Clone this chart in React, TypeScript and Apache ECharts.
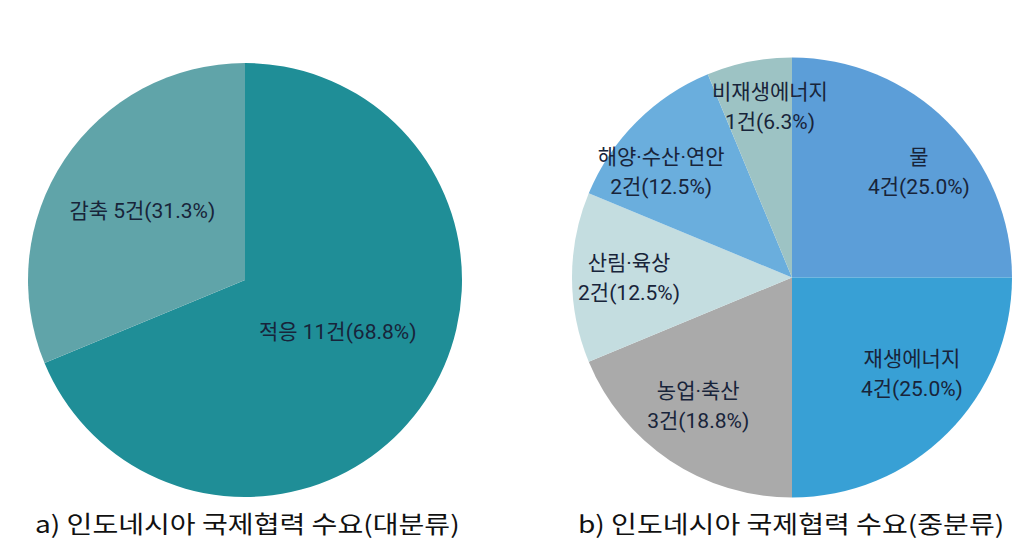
import React, { useEffect, useRef } from "react";
import * as echarts from "echarts";

// a) 대분류
const majorNames = ["적응", "감축"];
const majorValues = [11, 5];
const majorColors = ["#1f8e97", "#60a4a9"];
const majorOffsets = [[0, -10], [-10, -7]];

// b) 중분류
const minorNames = ["물", "재생에너지", "농업·축산", "산림·육상", "해양·수산·연안", "비재생에너지"];
const minorValues = [4, 4, 3, 2, 2, 1];
const minorColors = ["#5c9ed8", "#38a0d5", "#aaaaaa", "#c4dde0", "#6aaedd", "#9dc3c4"];
const minorOffsets = [[47, -26], [40, 17], [-31, 35], [-50, 0], [-51, -26], [0, -60]];

const captions = ["a) 인도네시아 국제협력 수요(대분류)", "b) 인도네시아 국제협력 수요(중분류)"];

const FONT = "Roboto, 'Noto Sans CJK KR', sans-serif";

function pct(v: number, arr: number[]) {
  const t = arr.reduce((a, b) => a + b, 0);
  return ((v / t) * 100).toFixed(1);
}

export default function App() {
  const ref = useRef<HTMLDivElement>(null);
  useEffect(() => {
    if (!ref.current) return;
    const chart = echarts.init(ref.current, undefined, { renderer: "svg" });
    const labelBase = {
      show: true,
      position: "inside",
      color: "#18243a",
      fontFamily: FONT,
      fontSize: 21,
      lineHeight: 30,
      align: "center",
    };
    chart.setOption({
      animation: false,
      backgroundColor: "#ffffff",
      series: [
        {
          type: "pie",
          center: [245, 280],
          radius: [0, 217],
          startAngle: 90,
          clockwise: true,
          silent: true,
          labelLine: { show: false },
          label: { ...labelBase },
          data: majorNames.map((n, i) => ({
            name: n,
            value: majorValues[i],
            itemStyle: { color: majorColors[i] },
            label: {
              offset: majorOffsets[i],
              formatter: `${n} ${majorValues[i]}건(${pct(majorValues[i], majorValues)}%)`,
            },
          })),
        },
        {
          type: "pie",
          center: [792, 277.5],
          radius: [0, 220],
          startAngle: 90,
          clockwise: true,
          silent: true,
          labelLine: { show: false },
          label: { ...labelBase },
          data: minorNames.map((n, i) => ({
            name: n,
            value: minorValues[i],
            itemStyle: { color: minorColors[i] },
            label: {
              offset: minorOffsets[i],
              formatter: `${n}\n${minorValues[i]}건(${pct(minorValues[i], minorValues)}%)`,
            },
          })),
        },
      ],
      graphic: [
        {
          type: "text",
          x: 35,
          y: 523,
          scaleX: 1.17,
          style: {
            text: captions[0],
            fill: "#111111",
            font: "24px 'Noto Sans CJK KR', sans-serif",
            textVerticalAlign: "middle",
            verticalAlign: "middle",
          },
        },
        {
          type: "text",
          x: 578,
          y: 523,
          scaleX: 1.17,
          style: {
            text: captions[1],
            fill: "#111111",
            font: "24px 'Noto Sans CJK KR', sans-serif",
            textVerticalAlign: "middle",
            verticalAlign: "middle",
          },
        },
      ],
    });
    return () => chart.dispose();
  }, []);
  return (
    <div
      ref={ref}
      style={{ position: "absolute", left: 0, top: 0, width: 1026, height: 545 }}
    />
  );
}
